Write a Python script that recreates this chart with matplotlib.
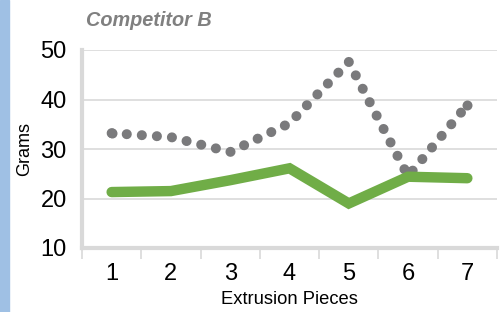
import matplotlib
matplotlib.use("Agg")
import matplotlib.pyplot as plt
from matplotlib.patches import Rectangle

plt.rcParams['font.family'] = ['Liberation Sans', 'DejaVu Sans']

# data
pieces = [1, 2, 3, 4, 5, 6, 7]
tick_labels = ["1", "2", "3", "4", "5", "6", "7"]
competitor_b = [33.2, 32.4, 29.4, 35.2, 47.6, 24.5, 38.9]
ours = [21.3, 21.5, 23.7, 26.1, 19.0, 24.4, 24.1]

fig = plt.figure(figsize=(5.01, 3.12), dpi=100)
ax = fig.add_axes([82/501, 64/312, 415/501, 198/312])

# blue strip on the left edge
fig.patches.append(Rectangle((0, 0), 8.5/501, 1, transform=fig.transFigure,
                             color='#9fc0e4', zorder=0))

ax.plot(pieces, competitor_b, color='#7a7a7c', lw=7.2,
        linestyle=(0, (0.01, 1.5)), dash_capstyle='round', zorder=3,
        marker='o', markersize=7.2, markeredgewidth=0, markevery=[0, -1])
ax.plot(pieces, ours, color='#70ad47', lw=7.5,
        solid_capstyle='round', solid_joinstyle='miter', zorder=4)

ax.set_xlim(0.5, 7.5)
ax.set_ylim(10, 50)
ax.set_yticks([10, 20, 30, 40, 50])
ax.set_xticks(pieces)
ax.set_xticklabels(tick_labels)
ax.set_xticks([x + 0.5 for x in range(0, 8)], minor=True)

ax.grid(axis='y', color='#d9d9d9', lw=1.2)
ax.set_axisbelow(True)
for s in ['top', 'right']:
    ax.spines[s].set_visible(False)
for s in ['left', 'bottom']:
    ax.spines[s].set_color('#d9d9d9')
    ax.spines[s].set_linewidth(3)

ax.tick_params(axis='y', length=0, pad=11, labelsize=17)
ax.tick_params(axis='x', which='major', length=0, pad=11, labelsize=17)
ax.tick_params(axis='x', which='minor', length=8, width=1.2, color='#d9d9d9')

ax.set_xlabel("Extrusion Pieces", fontsize=13.2, labelpad=4)
ax.set_ylabel("Grams", fontsize=13, labelpad=5)

fig.text(86/501, 1 - 21/312, "Competitor B", fontsize=14.3, fontweight='bold',
         fontstyle='italic', color='#808080', va='center', ha='left')

fig.savefig("out.png", dpi=100)
